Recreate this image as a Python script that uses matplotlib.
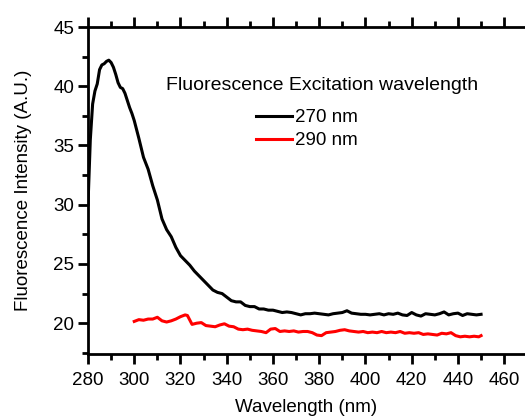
import matplotlib
matplotlib.use("Agg")
import matplotlib.pyplot as plt
from matplotlib.ticker import MultipleLocator

plt.rcParams["font.family"] = ["Liberation Sans", "DejaVu Sans"]

# == 270 nm excitation ==
wl_270 = [280, 281, 282, 283, 284, 285, 286, 287, 288, 289, 290, 291, 292, 293, 294,
          295, 296, 297, 298, 299, 300, 302, 304, 306, 308, 310, 312, 314, 316, 318,
          320, 322, 324, 326, 328, 330, 332, 334, 336, 338, 340, 342, 344, 346, 348,
          350, 352, 354, 356, 358, 360, 362, 364, 366, 368, 370, 372, 374, 376, 378,
          380, 382, 384, 386, 388, 390, 392, 394, 396, 398, 400, 402, 404, 406, 408,
          410, 412, 414, 416, 418, 420, 422, 424, 426, 428, 430, 432, 434, 436, 438,
          440, 442, 444, 446, 448, 450]
fl_270 = [30.0, 35.5, 38.5, 39.6, 40.2, 41.4, 41.8, 41.9, 42.1, 42.2, 42.0, 41.6, 41.0, 40.3, 39.9,
          39.8, 39.4, 38.8, 38.2, 37.7, 37.1, 35.6, 34.0, 33.0, 31.6, 30.4, 28.8, 27.9, 27.3, 26.4,
          25.7, 25.3, 24.9, 24.4, 24.0, 23.6, 23.2, 22.8, 22.6, 22.5, 22.2, 21.9, 21.8, 21.8, 21.5,
          21.4, 21.4, 21.2, 21.2, 21.1, 21.1, 21.0, 20.9, 20.95, 20.9, 20.8, 20.7, 20.8, 20.8, 20.85,
          20.8, 20.75, 20.7, 20.8, 20.85, 20.9, 21.05, 20.85, 20.8, 20.75, 20.75, 20.7, 20.75, 20.8, 20.7,
          20.8, 20.75, 20.85, 20.7, 20.65, 20.9, 20.7, 20.6, 20.8, 20.75, 20.7, 20.8, 20.95, 20.7, 20.8,
          20.85, 20.65, 20.8, 20.75, 20.7, 20.75]

# == 290 nm excitation ==
wl_290 = [300, 302, 304, 306, 308, 310, 312, 314, 316, 318, 320, 322, 323, 325, 327,
          329, 331, 333, 335, 337, 339, 341, 343, 345, 347, 349, 351, 353, 355, 357,
          359, 361, 363, 365, 367, 369, 371, 373, 375, 377, 379, 381, 383, 385, 387,
          389, 391, 393, 395, 397, 399, 401, 403, 405, 407, 409, 411, 413, 415, 417,
          419, 421, 423, 425, 427, 429, 431, 433, 435, 437, 439, 441, 443, 445, 447,
          449, 450]
fl_290 = [20.15, 20.3, 20.25, 20.35, 20.35, 20.5, 20.2, 20.1, 20.2, 20.35, 20.55, 20.7, 20.65, 19.9, 20.0,
          20.05, 19.8, 19.75, 19.7, 19.85, 19.95, 19.75, 19.7, 19.5, 19.45, 19.5, 19.4, 19.35, 19.3, 19.2,
          19.5, 19.55, 19.3, 19.35, 19.3, 19.35, 19.25, 19.3, 19.3, 19.2, 19.0, 18.95, 19.2, 19.25, 19.3,
          19.4, 19.45, 19.35, 19.3, 19.25, 19.3, 19.2, 19.25, 19.2, 19.3, 19.2, 19.25, 19.2, 19.3, 19.15,
          19.2, 19.15, 19.2, 19.05, 19.1, 19.05, 19.0, 19.15, 19.1, 19.2, 18.95, 18.85, 18.9, 18.85, 18.9,
          18.85, 18.95]

W, H = 525, 420
fs = 13.5

fig = plt.figure(figsize=(W / 100, H / 100), dpi=100)
ax = fig.add_axes([88 / W, 1 - 354 / H, 1 - 88 / W, (354 - 27) / H])

ax.plot(wl_270, fl_270, color="black", lw=2.2, label="270 nm")
ax.plot(wl_290, fl_290, color="red", lw=2.2, label="290 nm")

ax.set_xlim(280, 469)
ax.set_ylim(17.4, 45)
ax.xaxis.set_major_locator(MultipleLocator(20))
ax.xaxis.set_minor_locator(MultipleLocator(10))
ax.yaxis.set_major_locator(MultipleLocator(5))
ax.yaxis.set_minor_locator(MultipleLocator(2.5))

for side in ["left", "bottom", "top"]:
    ax.spines[side].set_linewidth(2)
ax.spines["right"].set_visible(False)

ax.tick_params(which="major", direction="out", length=7, width=2, labelsize=fs, pad=3)
ax.tick_params(which="minor", direction="out", length=4, width=2)
ax.tick_params(axis="x", which="both", top=True)
ax.tick_params(axis="x", which="major", labeltop=False, pad=6)

ax.set_xlabel("Wavelength (nm)", fontsize=fs, labelpad=7)
ax.set_ylabel("Fluorescence Intensity (A.U.)", fontsize=fs, labelpad=15)

# legend title and entries placed in figure pixels
fig.text(166 / W, 1 - 86 / H, "Fluorescence Excitation wavelength",
         fontsize=14, va="center", ha="left")
ax.legend(loc="upper left", bbox_to_anchor=(256 / W, 1 - 109 / H),
          bbox_transform=fig.transFigure, frameon=False, borderpad=0,
          borderaxespad=0, fontsize=fs, handlelength=1.9, handletextpad=0.2,
          labelspacing=0.32)

fig.savefig("out.png", dpi=100)
